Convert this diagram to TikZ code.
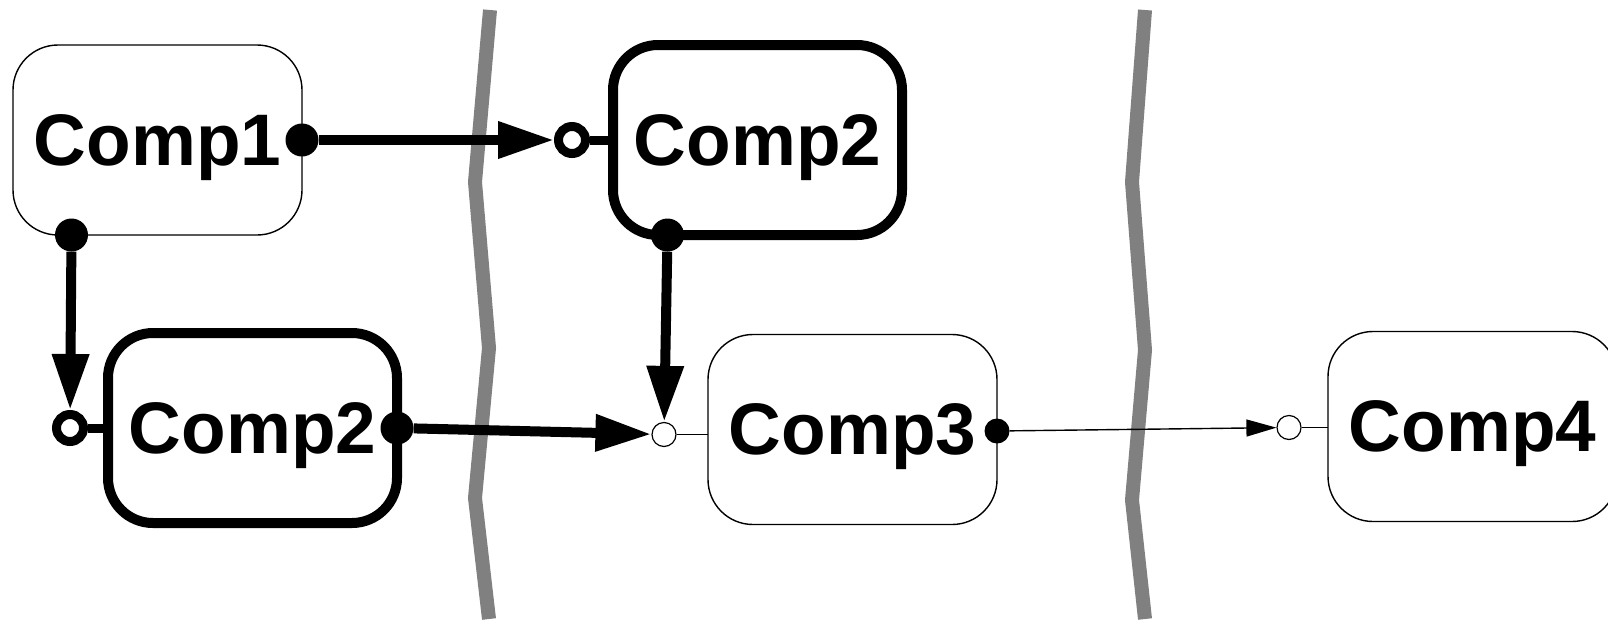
\documentclass[tikz,border=0pt]{standalone}
\usepackage{fontspec}
\setmainfont{Liberation Sans}
\usetikzlibrary{arrows.meta}

\definecolor{rulegray}{gray}{0.5}

\begin{document}
\begin{tikzpicture}[
    x=1pt, y=-1pt,
    node distance=600pt,
    comp/.style={rectangle, draw, fill=white, rounded corners=45pt, minimum width=289pt, minimum height=190pt, outer sep=0pt, line width=1.4pt, text depth=0pt, font=\fontsize{73}{78}\selectfont\bfseries},
    compbold/.style={comp, line width=10pt},
    outport/.style={circle, fill=black, inner sep=0pt, minimum size=33pt},
    inport/.style={circle, draw, fill=white, inner sep=0pt, minimum size=27pt, line width=9pt},
    thinout/.style={circle, fill=black, inner sep=0pt, minimum size=25pt},
    thinin/.style={circle, draw, fill=white, inner sep=0pt, minimum size=24pt, line width=1.2pt},
    arrow/.style={-{Triangle[length=56pt, width=35pt]}, line width=10pt},
    thinarrow/.style={-{Triangle[length=30pt, width=17pt]}, line width=1.4pt}
]
\useasboundingbox (0,0) rectangle (1608,619);

% Boundaries
\draw[rulegray, line width=14pt] (490,10) -- (475,182) -- (489,348) -- (475,498) -- (489,619);
\draw[rulegray, line width=14pt] (1145,10) -- (1132,182) -- (1145,350) -- (1132,500) -- (1145,619);

% Components
\node[comp] (comp1) at (157.5,140) {Comp1};
\node[compbold, right of=comp1] (comp2t) {Comp2};
\node[compbold, below of=comp1, xshift=95pt, yshift=312pt] (comp2b) {Comp2};
\node[comp, right of=comp2b, yshift=-1.5pt] (comp3) {Comp3};
\node[comp, right of=comp3, xshift=20pt, yshift=3pt] (comp4) {Comp4};

% Ports
\node[outport] (c1east) at (comp1.east) {};
\node[outport] (c1south) at ([xshift=-86pt]comp1.south) {};
\node[inport] (c2twest) at ([xshift=-41pt]comp2t.west) {};
\node[outport] (c2tsouth) at ([xshift=-90pt]comp2t.south) {};
\node[inport] (c2bwest) at ([xshift=-38pt]comp2b.west) {};
\node[outport] (c2beast) at (comp2b.east) {};
\node[thinin] (c3west) at ([xshift=-44pt, yshift=-5pt]comp3.west) {};
\node[thinout] (c3east) at ([yshift=-1.5pt]comp3.east) {};
\node[thinin] (c4west) at ([xshift=-39pt, yshift=-1pt]comp4.west) {};

% Stubs
\draw[line width=9pt] (c2twest) -- (comp2t.west);
\draw[line width=9pt] (c2bwest) -- (comp2b.west);
\draw[line width=1.4pt] (c3west) -- (c3west -| comp3.west);
\draw[line width=1.4pt] (c4west) -- (c4west -| comp4.west);

% Arrows
\draw[arrow] (c1east) -- (c2twest);
\draw[arrow] (c1south) -- (c2bwest);
\draw[arrow] (c2beast) -- (c3west);
\draw[arrow] (c2tsouth) -- (c3west);
\draw[thinarrow] (c3east) -- (c4west);

\end{tikzpicture}
\end{document}
